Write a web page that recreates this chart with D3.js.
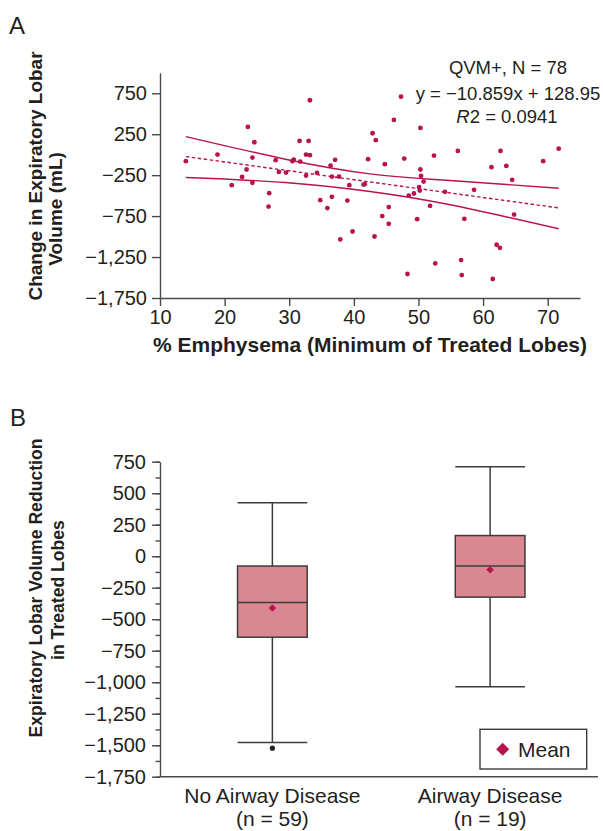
<!DOCTYPE html>
<html>
<head>
<meta charset="utf-8">
<style>
  body { margin: 0; background: #fff; }
  svg { font-family: "Liberation Sans", Arial, sans-serif; }
  .domain, .tick line { stroke: #4a4a4a; stroke-width: 1.4; }
  .tick text { fill: #231f20; font-size: 20px; }
  .title { fill: #231f20; font-weight: bold; }
</style>
<script src="https://d3js.org/d3.v7.min.js"></script>
</head>
<body>
<svg width="603" height="831"></svg>
<script>
// ---- panel A: scatter ----
const emphysema = [14.0, 18.9, 21.1, 22.7, 23.4, 23.6, 24.3, 24.6, 24.3, 26.9, 26.8, 27.9, 28.4, 29.5,
  30.5, 30.7, 31.6, 31.7, 32.6, 33.0, 33.2, 33.2, 32.6, 34.3, 34.8, 35.9, 36.4, 37.1, 36.6, 37.7,
  36.6, 37.9, 39.3, 39.0, 39.8, 41.5, 41.7, 42.2, 42.9, 43.4, 43.2,
  47.3, 46.2, 50.3, 47.8, 44.8, 52.4, 56.1, 62.7, 61.3, 63.6, 69.3, 71.7, 64.5, 50.3, 50.4, 50.8,
  50.1, 50.2, 49.3, 48.5, 54.1, 58.6, 51.8, 49.8, 45.4, 44.4, 45.4, 57.1, 64.8, 62.1, 62.6, 52.6,
  56.6, 56.7, 48.3, 61.5];
const volumeChange = [-79, 1, -372, -271, -181, 339, -35, 152, -344, -470, -633, -67, -210, -218,
  -79, -60, 168, -84, 1, 168, -6, 665, -255, -222, -555, -652, -133, -63, -267, -267,
  -515, -1035, -372, -560, -938, -365, -360, -55, 262, 177, -999,
  709, 424, 327, -48, -116, -11, 46, 46, -152, -137, -79, 74, -307, -181, -259, -328,
  -396, -438, -474, -499, -454, -429, -625, -787, -640, -750, -844, -783, -731, -1100, -1137, -1328,
  -1287, -1470, -1457, -1518];
const fitSlope = -10.859, fitIntercept = 128.95;
const bandX = [14, 29.4, 42.5, 54.9, 71.7];
const bandUpper = [221, -55, -234, -316, -409];
const bandLower = [-279, -340, -450, -612, -905];
const xTicksA = [10, 20, 30, 40, 50, 60, 70];
const yTicksA = [750, 250, -250, -750, -1250, -1750];

// ---- panel B: box plot ----
const groups = ["No Airway Disease", "Airway Disease"];
const groupN = ["(n = 59)", "(n = 19)"];
const whiskerHigh = [424, 710];
const q3 = [-78, 164];
const median = [-367, -78];
const q1 = [-643, -325];
const whiskerLow = [-1479, -1036];
const means = [-412, -107];
const outliers = [[0, -1524]];
const yTicksB = [750, 500, 250, 0, -250, -500, -750, -1000, -1250, -1500, -1750];

const red = "#b8124f";
const svg = d3.select("svg");
const fmt = d3.format(",");

// panel A
const xA = d3.scaleLinear().domain([10, 75]).range([160, 580]);
const yA = d3.scaleLinear().domain([-1750, 1000]).range([298, 72.8]);

svg.append("text").attr("x", 9).attr("y", 34).attr("font-size", 24).attr("fill", "#231f20").text("A");

svg.append("g").attr("transform", "translate(160,0)")
  .call(d3.axisLeft(yA).tickValues(yTicksA).tickFormat(fmt).tickSize(8).tickSizeOuter(0).tickPadding(5));
svg.append("g").attr("transform", "translate(0,298)")
  .call(d3.axisBottom(xA).tickValues(xTicksA).tickSize(8).tickSizeOuter(0).tickPadding(4));

const pts = emphysema.map((x, i) => [x, volumeChange[i]]);
svg.append("g").selectAll("circle").data(pts).join("circle")
  .attr("cx", d => xA(d[0])).attr("cy", d => yA(d[1])).attr("r", 2.4).attr("fill", red);

const band = d3.line().x(d => xA(d[0])).y(d => yA(d[1])).curve(d3.curveNatural);
[bandUpper, bandLower].forEach(b => {
  svg.append("path").attr("d", band(bandX.map((x, i) => [x, b[i]])))
    .attr("fill", "none").attr("stroke", red).attr("stroke-width", 1.4);
});
const fitEnds = [bandX[0], bandX[bandX.length - 1]];
svg.append("path")
  .attr("d", d3.line().x(d => xA(d)).y(d => yA(fitSlope * d + fitIntercept))(fitEnds))
  .attr("fill", "none").attr("stroke", red).attr("stroke-width", 1.4).attr("stroke-dasharray", "3.5,2.5");

const note = svg.append("g").attr("fill", "#231f20").attr("font-size", 18.5).attr("text-anchor", "middle");
note.append("text").attr("x", 508).attr("y", 74).text("QVM+, N = 78");
note.append("text").attr("x", 508).attr("y", 100).text("y = \u221210.859x + 128.95");
const r2 = note.append("text").attr("x", 507).attr("y", 123);
r2.append("tspan").attr("font-style", "italic").text("R");
r2.append("tspan").text("2 = 0.0941");

svg.append("text").attr("class", "title").attr("font-size", 21).attr("text-anchor", "middle")
  .attr("x", 370).attr("y", 352).text("% Emphysema (Minimum of Treated Lobes)");
svg.append("text").attr("class", "title").attr("font-size", 19).attr("text-anchor", "middle")
  .attr("transform", "translate(42,176) rotate(-90)").text("Change in Expiratory Lobar");
svg.append("text").attr("class", "title").attr("font-size", 19).attr("text-anchor", "middle")
  .attr("transform", "translate(62,209) rotate(-90)").text("Volume (mL)");

// panel B
const xB = d3.scaleBand().domain(groups).range([163.5, 599]);
const yB = d3.scaleLinear().domain([-1750, 750]).range([776.7, 461.7]);
const boxW = xB.bandwidth() * 0.32;

svg.append("text").attr("x", 10).attr("y", 426).attr("font-size", 24).attr("fill", "#231f20").text("B");

svg.append("g").attr("transform", "translate(160,0)")
  .call(d3.axisLeft(yB).tickValues(d3.range(-1750, 751, 125)).tickFormat(() => "").tickSize(4.5).tickSizeOuter(0))
  .call(g => g.select(".domain").remove());
svg.append("g").attr("transform", "translate(160,0)")
  .call(d3.axisLeft(yB).tickValues(yTicksB).tickFormat(fmt).tickSize(8).tickSizeOuter(0).tickPadding(6));
svg.append("line").attr("x1", 160).attr("x2", 598).attr("y1", yB(-1750)).attr("y2", yB(-1750))
  .attr("stroke", "#4a4a4a").attr("stroke-width", 1.4);

const boxes = svg.append("g").attr("stroke", "#3c3c3c").attr("stroke-width", 1.5);
groups.forEach((g, i) => {
  const cx = xB(g) + xB.bandwidth() / 2;
  boxes.append("line").attr("x1", cx).attr("x2", cx).attr("y1", yB(whiskerHigh[i])).attr("y2", yB(whiskerLow[i]));
  [whiskerHigh[i], whiskerLow[i]].forEach(v => {
    boxes.append("line").attr("x1", cx - boxW / 2).attr("x2", cx + boxW / 2).attr("y1", yB(v)).attr("y2", yB(v));
  });
  boxes.append("rect").attr("x", cx - boxW / 2).attr("width", boxW)
    .attr("y", yB(q3[i])).attr("height", yB(q1[i]) - yB(q3[i])).attr("fill", "#d98890");
  boxes.append("line").attr("x1", cx - boxW / 2).attr("x2", cx + boxW / 2).attr("y1", yB(median[i])).attr("y2", yB(median[i]));
  svg.append("path").attr("d", d3.symbol(d3.symbolSquare, 28)())
    .attr("transform", `translate(${cx},${yB(means[i])}) rotate(45)`).attr("fill", red);
  svg.append("text").attr("x", cx).attr("y", 803).attr("text-anchor", "middle")
    .attr("font-size", 21).attr("fill", "#231f20").text(g);
  svg.append("text").attr("x", cx).attr("y", 826).attr("text-anchor", "middle")
    .attr("font-size", 21).attr("fill", "#231f20").text(groupN[i]);
});
svg.append("g").selectAll("circle").data(outliers).join("circle")
  .attr("cx", d => xB(groups[d[0]]) + xB.bandwidth() / 2).attr("cy", d => yB(d[1]))
  .attr("r", 2.6).attr("fill", "#231f20");

// legend
svg.append("rect").attr("x", 480).attr("y", 729.3).attr("width", 106.7).attr("height", 39.7)
  .attr("fill", "#fff").attr("stroke", "#3c3c3c").attr("stroke-width", 1.4);
svg.append("path").attr("d", d3.symbol(d3.symbolSquare, 84)())
  .attr("transform", "translate(502.7,749.3) rotate(45)").attr("fill", red);
svg.append("text").attr("x", 518).attr("y", 757).attr("font-size", 21).attr("fill", "#231f20").text("Mean");

svg.append("text").attr("class", "title").attr("font-size", 17.6).attr("text-anchor", "middle")
  .attr("transform", "translate(42,588) rotate(-90)").text("Expiratory Lobar Volume Reduction");
svg.append("text").attr("class", "title").attr("font-size", 17.6).attr("text-anchor", "middle")
  .attr("transform", "translate(64,590) rotate(-90)").text("in Treated Lobes");
</script>
</body>
</html>
